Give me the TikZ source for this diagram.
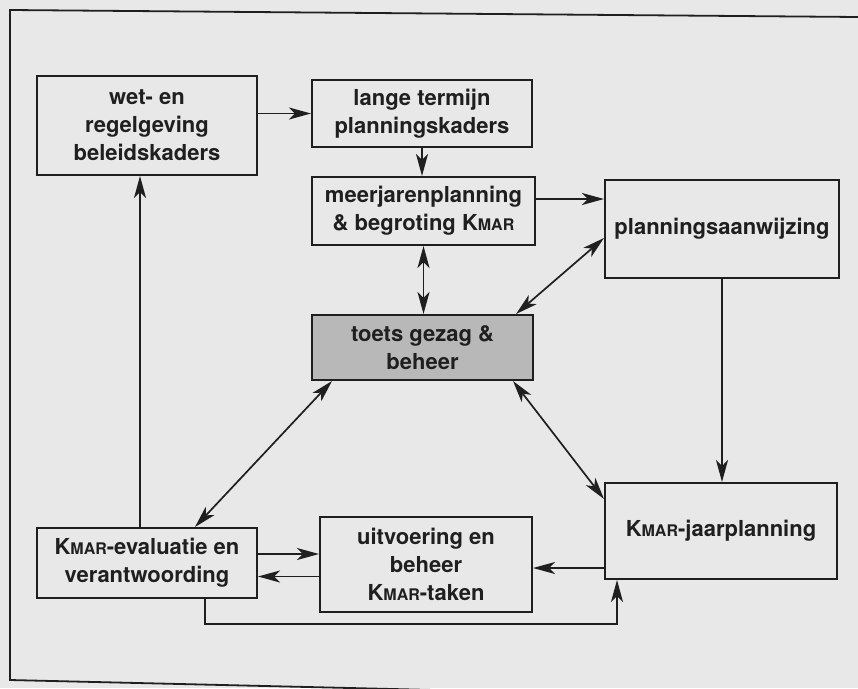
\documentclass[tikz,border=0pt]{standalone}
\usepackage{fontspec}
\setmainfont{TeX Gyre Heros}
\usetikzlibrary{arrows.meta}
\definecolor{paper}{gray}{0.91}
\definecolor{toetsgray}{gray}{0.72}
\definecolor{ink}{gray}{0.12}
\newcommand{\kmar}{K{\fontsize{16}{16}\selectfont MAR}}

\begin{document}
\begin{tikzpicture}[x=1pt,y=-1pt,
    head/.tip={Stealth[length=22pt,width=12pt,inset=6pt]},
    box/.style={draw=ink, line width=2pt, align=center, inner sep=2pt,
      text=ink, font=\fontsize{22}{28}\selectfont\bfseries},
    arr/.style={draw=ink, line width=1.7pt, -head},
    twoway/.style={draw=ink, line width=1.7pt, head-head}]
        % Paper and frame
        \path[use as bounding box, fill=paper] (0,0) rectangle (858,688);
        \clip (0,0) rectangle (858,688);
        \draw[ink, line width=1.8pt] (858,17) -- (10,10) -- (10,680) -- (520,692);

        % Boxes
        \node[box, minimum width=220pt, minimum height=99pt] (wet) at (147,125.5) {wet- en\\regelgeving\\beleidskaders};
        \node[box, minimum width=220pt, minimum height=67pt] (lange) at (422,113.5) {lange termijn\\planningskaders};
        \node[box, minimum width=223pt, minimum height=68pt] (meerjaren) at (423.5,211) {meerjarenplanning\\\& begroting \kmar};
        \node[box, minimum width=234pt, minimum height=98pt] (aanwijzing) at (722,229) {planningsaanwijzing};
        \node[box, fill=toetsgray, minimum width=221pt, minimum height=65pt] (toets) at (422.5,347.5) {toets gezag \&\\beheer};
        \node[box, minimum width=232pt, minimum height=96pt] (jaarplan) at (721,531) {\kmar-jaarplanning};
        \node[box, minimum width=212pt, minimum height=95pt] (uitvoering) at (426,564.5) {uitvoering en\\beheer\\\kmar-taken};
        \node[box, minimum width=220pt, minimum height=70pt] (evaluatie) at (147,563) {\kmar-evaluatie en\\verantwoording};

        % Arrows in the top part
        \draw[arr] (wet.east |- lange.west) -- (lange.west);
        \draw[arr] (lange.south) -- (lange.south |- meerjaren.north);
        \draw[twoway] (meerjaren.south) -- (meerjaren.south |- toets.north);
        \draw[arr] ([yshift=12pt]meerjaren.east) -- ([yshift=12pt]meerjaren.east -| aanwijzing.west);
        \draw[twoway] ([yshift=-9pt]aanwijzing.west) -- ([xshift=-18pt]toets.north east);
        \draw[arr] (aanwijzing.south) -- (aanwijzing.south |- jaarplan.north);

        % Arrows in the bottom part
        \draw[twoway] ([xshift=-21pt]toets.south east) -- ([yshift=-17pt]jaarplan.north west);
        \draw[twoway] ([xshift=21pt]toets.south west) -- ([xshift=48pt]evaluatie.north);
        \draw[arr] ([yshift=-37pt]jaarplan.west) -- ([yshift=-37pt]jaarplan.west -| uitvoering.east);
        \draw[arr] ([yshift=9pt]evaluatie.east) -- ([yshift=9pt]evaluatie.east -| uitvoering.west);
        \draw[arr] ([yshift=-12pt]uitvoering.west) -- ([yshift=-12pt]uitvoering.west -| evaluatie.east);
        \draw[arr] ([xshift=-7pt]evaluatie.north) -- ([xshift=-7pt]evaluatie.north |- wet.south);
        \draw[arr] ([xshift=58pt]evaluatie.south) -- ++(0,25) -| ([xshift=13pt]jaarplan.south west);
    \end{tikzpicture}
\end{document}
